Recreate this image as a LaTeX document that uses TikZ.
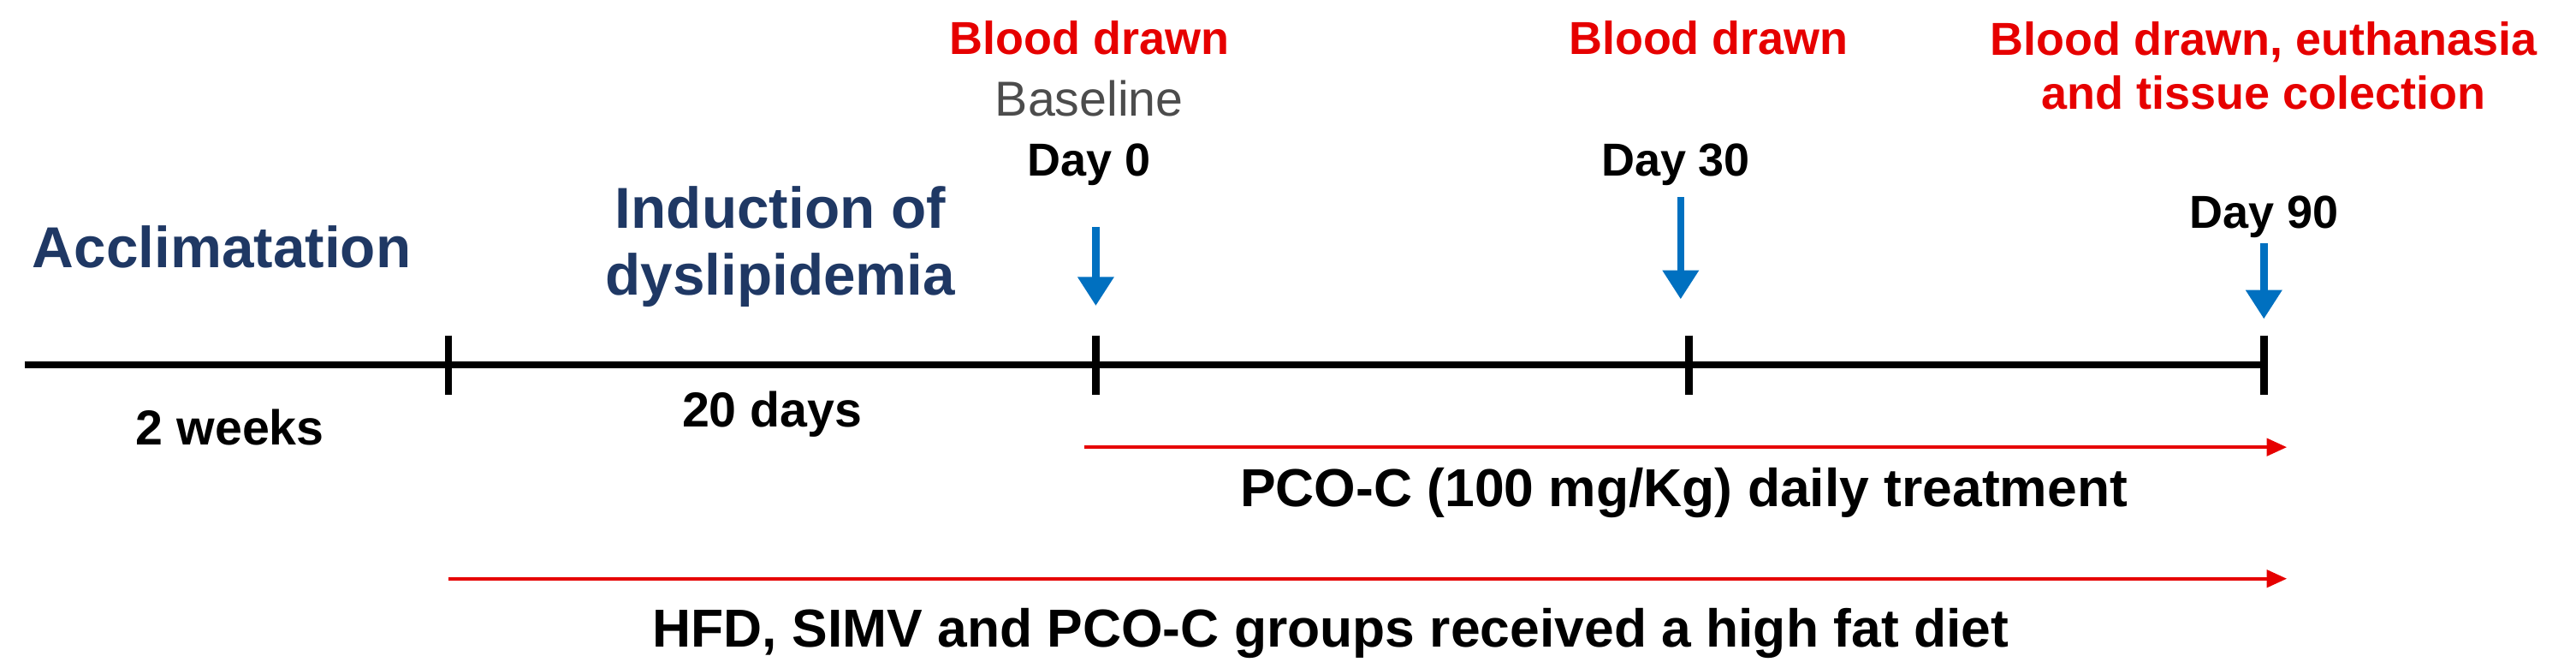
\documentclass[tikz,border=0pt]{standalone}
\usepackage{fontspec}
\setmainfont{Liberation Sans}
\usetikzlibrary{arrows.meta}
\definecolor{navy}{RGB}{31,56,100}
\definecolor{myred}{RGB}{230,0,0}
\definecolor{myblue}{RGB}{0,112,192}
\begin{document}
\begin{tikzpicture}[x=0.02cm,y=-0.02cm,
  big/.style={font=\fontsize{20}{23}\selectfont\bfseries,text=navy,align=center},
  red/.style={font=\fontsize{16}{18.5}\selectfont\bfseries,text=myred,align=center},
  lab/.style={font=\fontsize{16}{18}\selectfont\bfseries},
  biglab/.style={font=\fontsize{18.5}{21}\selectfont\bfseries},
  tick/.style={line width=2.5pt},
  barrow/.style={myblue,line width=2.5pt,-{Triangle[length=10pt,width=12pt]}},
  rarrow/.style={myred,line width=1.2pt,-{Triangle[length=7pt,width=6pt]}}]
\useasboundingbox (0,0) rectangle (1568,406);
\coordinate (L0) at (15,222);
\coordinate (L1) at (1380,222);
\draw[line width=2.5pt] (L0) -- (L1);
\foreach \n/\x in {a/273,b/667,c/1028,d/1378}{
  \coordinate (\n) at (\x,222);
  \draw[tick] (\x,204) -- (\x,240);}
\node[big] (acc) at (135,150) {Acclimatation};
\node[big] (ind) at (475,150) {Induction of\\dyslipidemia};
\node[biglab,font=\fontsize{17}{19}\selectfont\bfseries] (w2) at (140,260) {2 weeks};
\node[biglab,font=\fontsize{17}{19}\selectfont\bfseries] (d20) at (470,252) {20 days};
\node[red] (r0) at (663,23) {Blood drawn};
\node[font=\fontsize{17}{19}\selectfont,text=black!70] (base) at (663,60) {Baseline};
\node[lab] (day0) at (663,100) {Day 0};
\node[red] (r30) at (1040,23) {Blood drawn};
\node[lab] (day30) at (1020,100) {Day 30};
\node[red] (r90) at (1378,40) {Blood drawn, euthanasia\\and tissue colection};
\node[lab] (day90) at (1378,132) {Day 90};
\coordinate (a0s) at (667,138); \coordinate (a0e) at (667,186);
\coordinate (a1s) at (1023,120); \coordinate (a1e) at (1023,182);
\coordinate (a2s) at (1378,148); \coordinate (a2e) at (1378,194);
\draw[barrow] (a0s) -- (a0e);
\draw[barrow] (a1s) -- (a1e);
\draw[barrow] (a2s) -- (a2e);
\coordinate (t0) at (660,272); \coordinate (t1) at (1392,272);
\draw[rarrow] (t0) -- (t1);
\node[biglab] (tr) at (1025,300) {PCO-C (100 mg/Kg) daily treatment};
\coordinate (h0) at (273,352); \coordinate (h1) at (1392,352);
\draw[rarrow] (h0) -- (h1);
\node[biglab] (hfd) at (810,385) {HFD, SIMV and PCO-C groups received a high fat diet};
\end{tikzpicture}
\end{document}
